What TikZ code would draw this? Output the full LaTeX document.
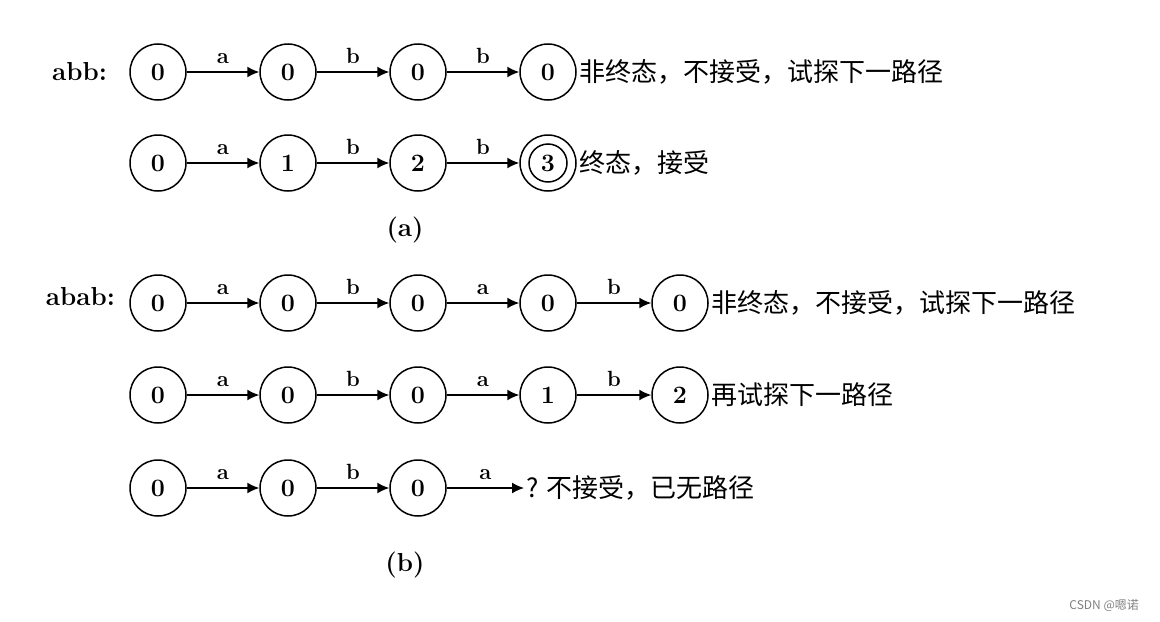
\documentclass[tikz,border=0pt]{standalone}
\usepackage{fontspec}
\newfontfamily\cjk{Noto Sans CJK SC}
\usetikzlibrary{arrows.meta}
\begin{document}
\begin{tikzpicture}[x=0.5pt,y=-0.5pt,
  st/.style={circle,draw,line width=0.75pt,minimum size=28pt,inner sep=0pt,font=\bfseries\fontsize{12.5}{12.5}\selectfont},
  arr/.style={line width=0.75pt,-{Latex[length=6pt,width=5.5pt]}},
  lab/.style={above=3pt,inner sep=1pt,font=\bfseries\fontsize{11}{11}\selectfont},
  txt/.style={anchor=west,inner sep=1pt,font=\cjk\fontsize{13}{13}\selectfont},
  captext/.style={font=\bfseries\fontsize{13}{13}\selectfont}]
\useasboundingbox (0,0) rectangle (1160,621);
% row 1
\node[captext,anchor=east] (l1) at (114,72) {abb:};
\node[st] (r1a) at (158,72) {0};
\node[st] (r1b) at (288,72) {0};
\node[st] (r1c) at (418,72) {0};
\node[st] (r1d) at (548,72) {0};
\draw[arr] (r1a) -- node[lab]{a} (r1b);
\draw[arr] (r1b) -- node[lab]{b} (r1c);
\draw[arr] (r1c) -- node[lab]{b} (r1d);
\node[txt] (t1) at (r1d.east) {非终态，不接受，试探下一路径};
% row 2
\node[st] (r2a) at (158,163) {0};
\node[st] (r2b) at (288,163) {1};
\node[st] (r2c) at (418,163) {2};
\node[st] (r2d) at (548,163) {};
\node[circle,draw,line width=0.75pt,minimum size=19pt,inner sep=0pt,font=\bfseries\fontsize{12.5}{12.5}\selectfont] (r2i) at (548,163) {3};
\draw[arr] (r2a) -- node[lab]{a} (r2b);
\draw[arr] (r2b) -- node[lab]{b} (r2c);
\draw[arr] (r2c) -- node[lab]{b} (r2d);
\node[txt] (t2) at (r2d.east) {终态，接受};
\node[captext] (ca) at (405,230) {(a)};
% row 3
\node[captext,anchor=east] (l3) at (122,297) {abab:};
\node[st] (r3a) at (158,303) {0};
\node[st] (r3b) at (288,303) {0};
\node[st] (r3c) at (418,303) {0};
\node[st] (r3d) at (548,303) {0};
\node[st] (r3e) at (680,303) {0};
\draw[arr] (r3a) -- node[lab]{a} (r3b);
\draw[arr] (r3b) -- node[lab]{b} (r3c);
\draw[arr] (r3c) -- node[lab]{a} (r3d);
\draw[arr] (r3d) -- node[lab]{b} (r3e);
\node[txt] (t3) at (r3e.east) {非终态，不接受，试探下一路径};
% row 4
\node[st] (r4a) at (158,395) {0};
\node[st] (r4b) at (288,395) {0};
\node[st] (r4c) at (418,395) {0};
\node[st] (r4d) at (548,395) {1};
\node[st] (r4e) at (680,395) {2};
\draw[arr] (r4a) -- node[lab]{a} (r4b);
\draw[arr] (r4b) -- node[lab]{b} (r4c);
\draw[arr] (r4c) -- node[lab]{a} (r4d);
\draw[arr] (r4d) -- node[lab]{b} (r4e);
\node[txt] (t4) at (r4e.east) {再试探下一路径};
% row 5
\node[st] (r5a) at (158,488) {0};
\node[st] (r5b) at (288,488) {0};
\node[st] (r5c) at (418,488) {0};
\coordinate (r5e) at (524,488);
\draw[arr] (r5a) -- node[lab]{a} (r5b);
\draw[arr] (r5b) -- node[lab]{b} (r5c);
\draw[arr] (r5c) -- node[lab]{a} (r5e);
\node[txt] (t5) at (r5e) {? 不接受，已无路径};
\node[captext] (cb) at (405,565) {(b)};
% watermark
\node[anchor=east,text=gray,font=\cjk\fontsize{6}{6}\selectfont] (wm) at (1146,605) {CSDN @嗯诺};
\end{tikzpicture}
\end{document}
